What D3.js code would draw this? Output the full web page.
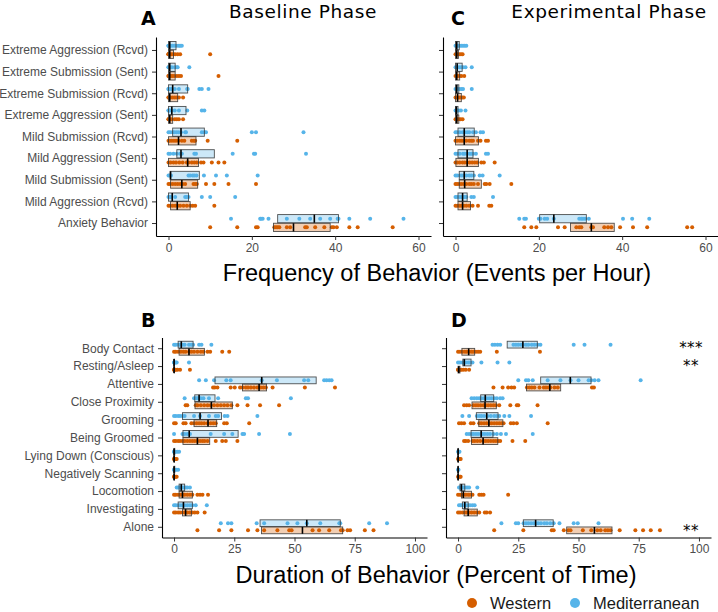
<!DOCTYPE html>
<html>
<head>
<meta charset="utf-8">
<script src="https://cdn.jsdelivr.net/npm/d3@7"></script>
<style>
  html, body { margin: 0; padding: 0; background: #fff; }
  svg { display: block; }
</style>
</head>
<body>
<svg id="chart" width="718" height="612"></svg>
<script>
// ---------------- DATA ----------------
const freqCats = ["Extreme Aggression (Rcvd)", "Extreme Submission (Sent)", "Extreme Submission (Rcvd)", "Extreme Aggression (Sent)", "Mild Submission (Rcvd)", "Mild Aggression (Sent)", "Mild Submission (Sent)", "Mild Aggression (Rcvd)", "Anxiety Behavior"];
const durCats = ["Body Contact", "Resting/Asleep", "Attentive", "Close Proximity", "Grooming", "Being Groomed", "Lying Down (Conscious)", "Negatively Scanning", "Locomotion", "Investigating", "Alone"];
const groups = ["Western", "Mediterranean"];
const freqTicks = [0, 20, 40, 60];
const durTicks = [0, 25, 50, 75, 100];

// Panel A: Baseline frequency (events per hour)
const baseFreqMed = [
  [0,0,0,0.3,0.5,1,1.5,2,2.5,2.8,3.2],
  [0,0,0.3,0.8,1.5,2,2.2,5],
  [0,0,0.3,0.8,1.5,2.5,4.5,4.6,7.4,8,9.6],
  [0,0,0.3,0.8,1.5,2.5,4.5,8,8.6],
  [0,0.4,1,1.4,1.9,2.4,3,4,4.2,8,8.6,9,20,21,32.4],
  [0,0.4,1.2,2,2.8,3.2,6.2,6.6,15.4,20.5,20.8,33],
  [0,0.3,0.6,4.8,5.2,5.8,6.2,6.7,8.5,11.4,14,21.4],
  [0,0.3,0.6,1.6,4,4.4,4.8,8,10,16],
  [15,22,22.2,22.6,24,28.4,31.4,34,36.4,38.8,40.6,40.8,43.4,48.4,56.4]
];
const baseFreqWest = [
  [0,0,0,0,0.4,0.8,1.2,1.6,2.2,2.8,10],
  [0,0,0.2,0.6,1,1.4,2,2.5,3,12],
  [0,0,0.2,0.5,1,1.5,2,2.5,3.5],
  [0,0,0.3,0.8,1.5,2,2.5,3.5],
  [0,0.3,0.8,1.3,1.8,2.4,3.2,3.8,5.6,6.1,6.4,9.4,16.5],
  [0,0.5,1.2,1.8,2.6,3.4,4.4,4.8,5.6,6.2,6.8,7.8,8.4,10.4,12,13.4],
  [0,0.4,1,1.6,2.2,2.8,3.4,4,6,6.4,6.8,9,11,14.4,21],
  [0,0.4,1,1.6,2.2,2.8,3.6,4.4,5.2,5.8,6.4,11],
  [10,16.5,21,21.4,25.4,25.8,26.2,26.6,28.4,29.2,32.8,33.2,35.2,37.4,39.2,39.6,40.4,43.4,45.4,53.8]
];
// box stats: [q1, median, q3]
const baseFreqMedBox = [[0,0.3,1.8],[0,0.3,1.6],[0,1.0,4.6],[0,0.8,4.2],[1,3,8.6],[2,3,11],[0.4,0.5,7.4],[0,0.9,4.8],[26.2,35,40.8]];
const baseFreqWestBox = [[0,0.3,1.2],[0,0.3,1.6],[0,0.3,2.2],[0,0.3,1],[0,2.4,6.6],[0,4.6,7.2],[0.5,3.2,7],[0.5,2.1,5.2],[25.2,30,38.8]];

// Panel C: Experimental frequency
const expFreqMed = [
  [0,0.2,0.6,1,1.4,1.8,2.2,2.6],
  [0,0.4,0.9,1.4,1.8,2.4,3.9],
  [0,0.4,0.9,1.4,1.8,3.9],
  [0,0.4,0.8,1.3,2.4],
  [0,0.4,1,1.7,2.2,2.8,3.3,4.2,4.9,6,6.6],
  [0,0.4,1,1.8,2.2,2.8,3.4,3.8,4.2,4.9,7.3,7.8],
  [0,0.4,1,1.5,2,2.6,3.3,3.8,4.4,5.8,6.5,10.6],
  [0,0.4,0.9,1.4,1.8,2.2,2.6,3.8,4.4,9],
  [15.3,16.5,16.9,20,20.4,21.4,22,23.6,29.7,30.2,30.6,31.1,32,40.2,42.4,46.5]
];
const expFreqWest = [
  [0,0.4,0.9,1.3,1.7],
  [0,0.4,0.9,1.4,2.1],
  [0,0.4,0.8,1.2,1.6,2],
  [0,0.4,0.8,1.2,1.7],
  [0,0.4,1,1.5,2,2.6,3.3,3.8,4.2,5.4,6,7.3,7.8],
  [0,0.4,1,1.7,2.2,2.8,3.4,4,4.6,5.2,6.2,6.8,9.4],
  [0,0.4,0.9,1.4,2,2.6,3.3,3.8,4.4,5.4,7,7.4,8.2,13.4],
  [0,0.4,0.9,1.4,2,2.6,3.3,4.1,5.4,8.1,8.6],
  [16.5,18.2,19.4,24.6,26.2,29,29.7,30.2,32.6,33,35.7,36.6,37.4,39.5,42.6,46,55.6,56.8]
];
const expFreqMedBox = [[0,0.3,0.9],[0,0.4,1.6],[0,0.3,0.8],[0,0.2,0.6],[0.6,2.1,4.5],[0.6,2.8,4.2],[0.9,2.1,4.4],[0.6,1.7,2.8],[20.2,23.6,31.4]];
const expFreqWestBox = [[0,0.3,0.7],[0,0.3,1],[0,0.5,1.4],[0,0.3,0.8],[0,2.1,5.5],[0.1,2.8,5.5],[0.9,2.2,6.2],[0.6,1.7,3.6],[27.6,32.6,38.1]];

// Panel B: Baseline duration (percent of time)
const baseDurMed = [
  [0,0.7,1.7,2.5,3.5,4.4,6.2,7.2,7.9,10.4,11.4,15.5],
  [0,0,0.3,0.7,1.1,6.2],
  [10.4,13.2,16.6,21.7,23.5,36.4,42.7,54,55.7,62.3,63.3,64.4,65.4],
  [4.4,8.3,9,9.7,10.4,11.1,12.2,14.5,18.3,29.8,30.7,48.5],
  [0,0.7,1.7,2.5,3.5,4.4,8.3,10.8,14.5,17.3,18.3,21,22.2,34.6],
  [0,3.5,4.4,5.5,6.6,15.2,20.8,24.2,28.4,29.1,35.3,48.1],
  [0,0,0.3,0.7,1.4,2.1],
  [0,0,0.4,1,1.7],
  [1.1,1.7,2.1,2.8,3.5,4.2,4.8,5.5,6.6],
  [0,0.7,1.7,2.5,3.5,4.4,5.5,6.6,7.6,9,13.6],
  [19.4,22.4,23.8,34.3,37.4,47.1,51.2,55.1,60.7,68.6,69,81,88.4]
];
const baseDurWest = [
  [0,0.7,1.7,2.8,3.9,4.8,6.2,7.2,8.3,9.7,11.1,12.2,13.9,15,20,22.9],
  [0,0,0.3,0.7,1.4,2.5,6.6],
  [16.2,16.9,18,23.5,25.2,27.4,28.4,29.8,30.7,31.9,33.2,34.6,36,37.1,38.1,40.9,54.3,66.8],
  [4.8,5.5,9,9.7,11.1,12.5,13.9,15.2,16.6,18,19.4,20.8,22.2,23.8,26.3,30.5,35.7,43.6],
  [0,0.7,3.9,4.8,7.2,8.3,9.4,10.4,11.4,12.5,13.9,15.2,16.3,17.3,20.8,21.9,31.2],
  [0,0.7,1.7,2.5,3.5,4.4,5.5,6.6,7.6,8.6,9.7,10.8,11.8,12.7,13.9,17.3,20,21.5,26.3],
  [0,0,0.3,0.7,1.1],
  [0,0,0.3,0.7,1.1],
  [0,0.7,1.7,2.5,3.5,4.4,5.5,6.6,7.6,9.7,10.8,11.8,14.1],
  [0,0.7,1.7,2.5,3.5,4.4,5.5,6.6,7.6,8.6,9.7,12.7],
  [9.7,18.7,23.8,30.7,34.6,37.4,42.9,47.8,48.8,57.5,60.2,64.4,69.3,70,72,73.1,79.2,82.8]
];
const baseDurMedBox = [[1.7,3,7.9],[0,0,0.2],[17,36.4,59],[8.6,10.4,17],[3.5,10.8,19.7],[3.7,6.3,26.6],[0,0,0.3],[0,0,0.3],[2.1,3,4.4],[1.7,3.9,7.6],[35.7,55.1,69]];
const baseDurWestBox = [[2.1,6.2,12.6],[0,0,0],[28.4,35.3,38.4],[8.7,15.5,24.2],[8.3,14.1,17.7],[3.7,9.7,14.8],[0,0,0.2],[0,0,0.2],[2.1,3.5,7.6],[3.5,4.8,7.2],[36.3,53.3,70]];

// Panel D: Experimental duration
const expDurMed = [
  [14.3,15.3,16.4,17.5,23,24,25,26.1,27,28.2,29.2,30.6,31.7,33,34.2,48,52.5,63.3],
  [0,0.8,1.8,2.5,3.2,4.2,5,6,9.7,16.4,21.3],
  [25,28.2,29.2,31,37.2,42.5,46.7,50,54.2,55.3,56.7,58.3,75.8],
  [5.6,6.7,7.8,8.8,9.7,10.8,11.9,12.9,13.9,15,16.1,17.5,18.5],
  [1.8,4.6,7.8,8.8,9.7,10.8,12.2,13.6,15,16.1,17.1,19.2,21.3,30.3],
  [3.6,4.6,5.6,6.4,7.4,8.3,9.4,10.1,11.1,12.2,13.3,14.7,16.1,17.8,19.9,31],
  [0,0.3,0.6],
  [0,0.2],
  [0.4,0.8,1.4,1.9,2.5,3.2,3.9,4.6,8],
  [0.4,1.1,1.8,2.5,3.2,4.2,5,6,6.9],
  [18,24,25,27.2,28.2,29.2,30.3,31.4,32.4,33.3,34.4,35.8,36.9,38.3,39.7,42.1,48,49.7,58.3]
];
const expDurWest = [
  [0,0.8,1.8,2.8,3.6,4.6,5.6,6.4,7.4,8.3,9.2,16.1,34],
  [0,0,0.4,0.8,1.4,2.2,3.2,4.6],
  [14.7,18.5,20.8,22.2,23.3,28.6,29.6,30.6,31.7,33.8,35.6,36.5,37.5,38.3,40,41.4,55.6,56.4],
  [2.5,3.6,4.6,6.4,7.4,8.3,9.4,10.6,11.5,12.5,13.6,14.7,15.7,17.1,21.7,24.4,25,33],
  [0.4,1.4,2.5,5.3,6.4,8.8,9.7,10.8,11.9,12.9,13.9,15,16.1,17.1,18.1,18.9,21.9,23,24.4,37.2],
  [2.5,3.2,4.2,6,6.9,8,9.2,10.6,11.5,12.5,13.6,14.7,15.7,16.7,17.5,22.6,27.9],
  [0,0.4,0.8,1.1],
  [0,0.4,0.8,1.1],
  [0,0.8,1.4,2.2,3.2,4.2,5,6,8.8,9.7,10.6,20.8],
  [0,0.8,1.8,2.8,3.6,4.6,5.6,6.7,7.8,8.8,11.1,11.9,13.3],
  [15,27.1,38.9,39.7,43.9,45.8,46.7,51.8,55.3,57.8,59.2,61.1,62.2,63.3,67.1,73.6,76.8,80,83.8]
];
const expDurMedBox = [[20.4,26.9,32.9],[2,2.6,5.4],[34.3,46.6,55.2],[9.4,11.3,14.8],[7.6,11.9,16.6],[5.4,9.6,14.5],[0,0,0.2],[0,0,0.1],[0.8,1.4,2.8],[1.8,2.8,4.2],[27.1,32.2,39.5]];
const expDurWestBox = [[1.6,4.4,6.9],[0,0.3,0.8],[28.4,38.1,42.6],[5.8,11.2,15.9],[8.6,12.8,18.6],[5.6,10.4,16.5],[0,0,0.2],[0,0,0.2],[1.4,2.2,5.6],[2.5,4.2,8],[45.1,56.6,63.9]];

// significance markers in panel D
const sigCats = ["Body Contact", "Resting/Asleep", "Alone"];
const sigLabels = ["***", "**", "**"];

// ---------------- DRAW ----------------
const colWest = "#D55E00";
const colMed = "#56B4E9";
const labelFont = "'Liberation Sans', Arial, Helvetica, sans-serif";
const titleFont = "'DejaVu Sans', Verdana, sans-serif";

const svg = d3.select("#chart");

function drawPanel(cfg) {
  const g = svg.append("g");
  const x = d3.scaleLinear().domain(cfg.domain).range([cfg.x0, cfg.x1]);
  const y = d3.scalePoint().domain(cfg.cats).range([cfg.y0, cfg.y1]).padding(0.6);
  const step = y.step();
  const off = step * 0.2;
  const bh = step * 0.38;

  const series = [
    { pts: cfg.medPts, box: cfg.medBox, col: colMed, dy: -off },
    { pts: cfg.westPts, box: cfg.westBox, col: colWest, dy: off }
  ];

  series.forEach(s => {
    cfg.cats.forEach((c, i) => {
      g.append("g").selectAll("circle").data(s.pts[i]).join("circle")
        .attr("cx", d => x(d))
        .attr("cy", y(c) + s.dy)
        .attr("r", 2)
        .attr("fill", s.col);
    });
  });

  series.forEach(s => {
    cfg.cats.forEach((c, i) => {
      const [q1, med, q3] = s.box[i];
      const cy = y(c) + s.dy;
      g.append("rect")
        .attr("x", x(q1))
        .attr("y", cy - bh / 2)
        .attr("width", Math.max(0.5, x(q3) - x(q1)))
        .attr("height", bh)
        .attr("fill", s.col)
        .attr("fill-opacity", 0.3)
        .attr("stroke", "#333")
        .attr("stroke-opacity", 0.85)
        .attr("stroke-width", 0.9);
      g.append("line")
        .attr("x1", x(med)).attr("x2", x(med))
        .attr("y1", cy - bh / 2).attr("y2", cy + bh / 2)
        .attr("stroke", "#000")
        .attr("stroke-width", 1.6);
    });
  });

  const xa = g.append("g")
    .attr("transform", `translate(0,${cfg.y1})`)
    .call(d3.axisBottom(x).tickValues(cfg.ticks).tickSize(4).tickSizeOuter(0).tickPadding(3));
  const ya = g.append("g")
    .attr("transform", `translate(${cfg.x0},0)`)
    .call(d3.axisLeft(y).tickSize(4).tickSizeOuter(0).tickPadding(4)
      .tickFormat(cfg.showLabels ? (d => d) : (() => "")));
  [xa, ya].forEach(a => {
    a.select(".domain").attr("stroke", "#000").attr("stroke-width", 1.1);
    a.selectAll(".tick line").attr("stroke", "#333").attr("stroke-width", 1);
    a.selectAll(".tick text")
      .attr("fill", "#4d4d4d")
      .style("font-family", labelFont)
      .style("font-size", "12px");
  });
  return { x, y, off };
}

const pA = drawPanel({ x0: 156, x1: 431, y0: 37, y1: 236, domain: [-3, 63], ticks: freqTicks, cats: freqCats,
  medPts: baseFreqMed, westPts: baseFreqWest, medBox: baseFreqMedBox, westBox: baseFreqWestBox, showLabels: true });
const pC = drawPanel({ x0: 443, x1: 718, y0: 37, y1: 236, domain: [-3, 63], ticks: freqTicks, cats: freqCats,
  medPts: expFreqMed, westPts: expFreqWest, medBox: expFreqMedBox, westBox: expFreqWestBox, showLabels: false });
const pB = drawPanel({ x0: 162, x1: 427, y0: 337.5, y1: 537.5, domain: [-5, 105], ticks: durTicks, cats: durCats,
  medPts: baseDurMed, westPts: baseDurWest, medBox: baseDurMedBox, westBox: baseDurWestBox, showLabels: true });
const pD = drawPanel({ x0: 446, x1: 711, y0: 337.5, y1: 537.5, domain: [-5, 105], ticks: durTicks, cats: durCats,
  medPts: expDurMed, westPts: expDurWest, medBox: expDurMedBox, westBox: expDurWestBox, showLabels: false });

// significance stars (vertical offsets in px from the category line)
const sigDy = [-pD.off + 8.5, -pD.off + 8.5, 9];
sigCats.forEach((c, i) => {
  svg.append("text")
    .attr("x", 691).attr("y", pD.y(c) + sigDy[i])
    .attr("text-anchor", "middle")
    .style("font-family", titleFont)
    .style("font-size", "15px")
    .style("letter-spacing", "0.4px")
    .attr("fill", "#000")
    .text(sigLabels[i]);
});

// Panel letters
[["A", 141, 25], ["C", 451, 25], ["B", 141, 327], ["D", 451, 327]].forEach(([t, xx, yy]) => {
  svg.append("text").attr("x", xx).attr("y", yy)
    .style("font-family", titleFont).style("font-weight", "bold").style("font-size", "19px")
    .attr("fill", "#000").text(t);
});

// Phase titles
svg.append("text").attr("x", 303).attr("y", 18).attr("text-anchor", "middle")
  .style("font-family", titleFont).style("font-size", "18.5px").style("letter-spacing", "0.6px")
  .attr("fill", "#000").text("Baseline Phase");
svg.append("text").attr("x", 609).attr("y", 18).attr("text-anchor", "middle")
  .style("font-family", titleFont).style("font-size", "18.5px").style("letter-spacing", "0.6px")
  .attr("fill", "#000").text("Experimental Phase");

// Axis titles
svg.append("text").attr("x", 437).attr("y", 281).attr("text-anchor", "middle")
  .style("font-family", labelFont).style("font-size", "23.5px").attr("fill", "#000")
  .text("Frequency of Behavior (Events per Hour)");
svg.append("text").attr("x", 436).attr("y", 583).attr("text-anchor", "middle")
  .style("font-family", labelFont).style("font-size", "23.5px").attr("fill", "#000")
  .text("Duration of Behavior (Percent of Time)");

// Legend
const legendItems = [
  { name: groups[0], col: colWest, cx: 472, tx: 490 },
  { name: groups[1], col: colMed, cx: 575, tx: 593 }
];
legendItems.forEach(it => {
  svg.append("circle").attr("cx", it.cx).attr("cy", 603).attr("r", 5).attr("fill", it.col);
  svg.append("text").attr("x", it.tx).attr("y", 609)
    .style("font-family", labelFont).style("font-size", "16.5px").attr("fill", "#1a1a1a").text(it.name);
});
</script>
</body>
</html>
